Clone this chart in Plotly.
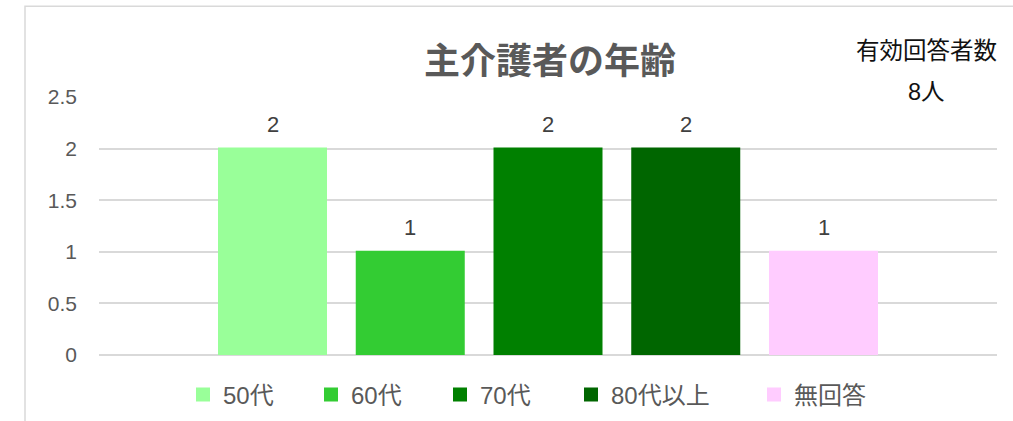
import plotly.graph_objects as go

categories = ["50代", "60代", "70代", "80代以上", "無回答"]
values = [2, 1, 2, 2, 1]
colors = ["#99FF99", "#33CC33", "#008000", "#006600", "#FFCCFF"]
legend_widths = [83, 84, 86, 138, 75]
title_text = "主介護者の年齢"
note_line1 = "有効回答者数"
note_line2 = "8人"
y_ticks = [0, 0.5, 1, 1.5, 2, 2.5]
y_ticklabels = ["0", "0.5", "1", "1.5", "2", "2.5"]

FONT = "Liberation Sans, Arial, Noto Sans CJK JP, sans-serif"

W, H = 1013, 421

fig = go.Figure()
for cat, val, col, lw in zip(categories, values, colors, legend_widths):
    fig.add_trace(go.Bar(
        x=[cat], y=[val], name=cat,
        marker=dict(color=col, line=dict(width=2, color=col)),
        legendwidth=lw,
        hoverinfo="skip",
    ))

annotations = []
for cat, val in zip(categories, values):
    annotations.append(dict(
        x=cat, y=val, xref="x", yref="y", text=str(val),
        showarrow=False, yanchor="middle", yshift=24.5,
        font=dict(family=FONT, size=22, color="#404040"),
    ))

annotations.append(dict(
    x=0.921, y=1.177, xref="paper", yref="paper", text=note_line1,
    showarrow=False, xanchor="center", yanchor="middle",
    font=dict(family=FONT, size=23.5, color="#111111"),
))
annotations.append(dict(
    x=0.921, y=1.018, xref="paper", yref="paper", text=note_line2,
    showarrow=False, xanchor="center", yanchor="middle",
    font=dict(family=FONT, size=23.5, color="#111111"),
))

plot_l, plot_r = 99, 997
plot_t, plot_b = 96.7, 354.7
plot_w = plot_r - plot_l
plot_h = plot_b - plot_t

fig.update_layout(
    width=W, height=H,
    margin=dict(l=plot_l, r=W - plot_r, t=plot_t, b=H - plot_b, autoexpand=False),
    paper_bgcolor="white", plot_bgcolor="white",
    barmode="overlay", bargap=0.2232,
    title=dict(
        text=title_text, x=550 / W, xref="container", xanchor="center",
        y=1 - 61.5 / H, yref="container", yanchor="middle",
        font=dict(family="Noto Sans CJK JP, sans-serif", size=36, color="#595959", weight="bold"),
    ),
    xaxis=dict(
        type="category", categoryorder="array", categoryarray=categories,
        range=[-1.2595, 5.2595], showticklabels=False, showgrid=False,
        zeroline=False, showline=False, ticks="", fixedrange=True,
    ),
    yaxis=dict(
        range=[0, 2.5], tickvals=y_ticks, ticktext=y_ticklabels,
        showgrid=True, gridcolor="#D9D9D9", gridwidth=1.5,
        zeroline=True, zerolinecolor="#D9D9D9", zerolinewidth=1.5,
        showline=False, ticks="", ticklabelstandoff=21,
        tickfont=dict(family=FONT, size=21, color="#595959"),
        fixedrange=True,
    ),
    legend=dict(
        orientation="h", x=(183 - plot_l) / plot_w, xanchor="left",
        y=1 - 395 / H, yref="container", yanchor="middle",
        font=dict(family=FONT, size=24, color="#595959"),
        itemclick=False, itemdoubleclick=False,
    ),
    annotations=annotations,
    shapes=[dict(
        type="rect", xref="paper", yref="paper",
        x0=(25 - plot_l) / plot_w, x1=(1040 - plot_l) / plot_w,
        y0=(plot_b - 470) / plot_h, y1=(plot_b - 6) / plot_h,
        line=dict(color="#D9D9D9", width=1.5), fillcolor="rgba(0,0,0,0)",
        layer="below",
    )],
    showlegend=True,
)

fig.write_html(
    "out.html",
    config={"displayModeBar": False},
    post_script="document.body.style.margin='0';document.body.style.overflow='hidden';",
)
